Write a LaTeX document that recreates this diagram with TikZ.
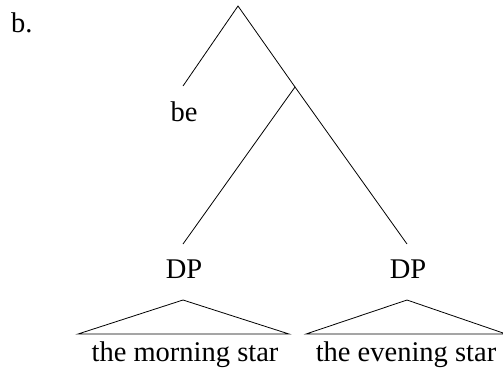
\documentclass[tikz,border=0pt]{standalone}
\usepackage{fontspec}
\setmainfont{Liberation Serif}
\begin{document}
\begin{tikzpicture}[x=1pt,y=-1pt,
  lbl/.style={anchor=base,inner xsep=0pt,inner ysep=0pt,font=\fontsize{28.5}{32}\selectfont},
  edge/.style={line width=0.8pt,line join=miter}]
\useasboundingbox (0,0) rectangle (503,376);
\node[lbl,anchor=base west] (ex) at (11,32) {b.};
\coordinate (root) at (238,6);
\coordinate (mid) at (295,87);
\coordinate (beTop) at (183,86);
\node[lbl] (be) at (184,121) {be};
\coordinate (dp1Top) at (183,244);
\coordinate (dp2Top) at (407,244);
\node[lbl] (dp1) at (184,278) {DP};
\node[lbl] (dp2) at (408,278) {DP};
\coordinate (t1a) at (183,300);
\coordinate (t1l) at (78,334);
\coordinate (t1r) at (289,334);
\coordinate (t2a) at (407,300);
\coordinate (t2l) at (306,334);
\coordinate (t2r) at (506,334);
\node[lbl] (np1) at (185,361) {the morning star};
\node[lbl] (np2) at (406,361) {the evening star};
\draw[edge] (beTop) -- (root) -- (mid);
\draw[edge] (dp1Top) -- (mid) -- (dp2Top);
\draw[edge] (t1l) -- (t1a) -- (t1r) -- cycle;
\draw[edge] (t2l) -- (t2a) -- (t2r) -- cycle;
\end{tikzpicture}
\end{document}
